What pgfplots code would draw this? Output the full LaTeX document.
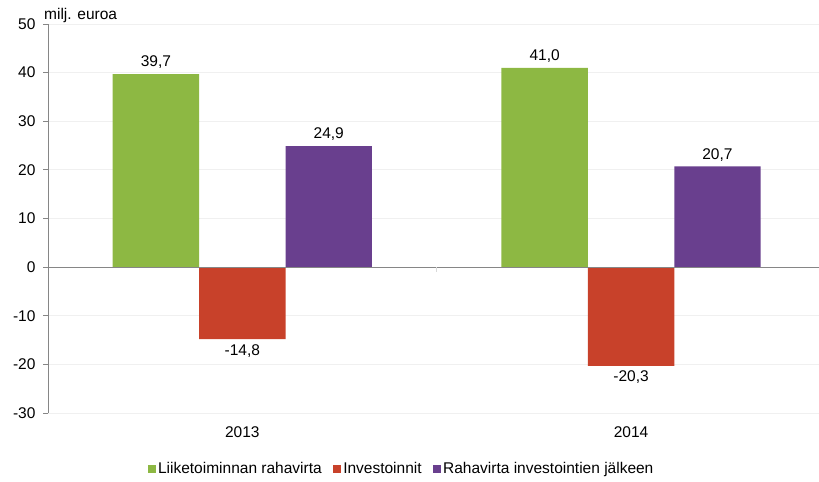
\documentclass[border=0pt]{standalone}
\usepackage{pgfplots}
\pgfplotsset{compat=1.18}
\usepackage{fontspec}
\setmainfont{Liberation Sans}
\definecolor{cgreen}{HTML}{8DB843}
\definecolor{cred}{HTML}{C8412A}
\definecolor{cpurple}{HTML}{693F8E}
\definecolor{cgrid}{HTML}{F0F0F0}
\definecolor{caxis}{HTML}{868686}
\begin{document}
\begin{tikzpicture}
\begin{axis}[
  name=ax,
  scale only axis,
  width=773.5pt, height=389pt,
  xmin=-0.5, xmax=1.49,
  ymin=-30, ymax=50,
  ytick={-30,-20,...,50},
  xtick={0,1}, xticklabels={2013,2014},
  axis y line*=left, axis x line*=bottom,
  x axis line style={draw=none},
  y axis line style={caxis, line width=0.8pt},
  xtick style={draw=none},
  ytick style={caxis, line width=0.8pt},
  tick align=outside,
  major tick length=5pt,
  ymajorgrids, grid style={cgrid, line width=0.8pt},
  font=\fontsize{15.5}{18}\selectfont,
  /pgf/number format/assume math mode=true,
  yticklabel style={xshift=-4pt},
  xticklabel style={yshift=-5pt},
  ybar, bar width=0.2223,
  nodes near coords,
  nodes near coords style={font=\fontsize{15.5}{18}\selectfont, inner sep=5pt, /pgf/number format/.cd, fixed, fixed zerofill, precision=1, use comma, assume math mode=true},
  legend columns=3,
  legend style={draw=none, at={([yshift=-56pt]rel axis cs:0.457,0)}, anchor=center, font=\fontsize{15.5}{18}\selectfont, /tikz/every even column/.append style={column sep=9pt}, /tikz/every odd column/.append style={column sep=0pt}},
  legend image code/.code={\fill[#1] (2pt,-4.2pt) rectangle (10.5pt,4.2pt);},
  clip=false,
]
\addplot[fill=cgreen, draw=none, bar shift=-0.2223] coordinates {(0,39.7) (1,41.0)};
\addplot[fill=cred, draw=none, bar shift=0] coordinates {(0,-14.8) (1,-20.3)};
\addplot[fill=cpurple, draw=none, bar shift=0.2223] coordinates {(0,24.9) (1,20.7)};
\legend{Liiketoiminnan rahavirta, Investoinnit, Rahavirta investointien jälkeen}
\draw[caxis, line width=0.8pt] (axis cs:-0.5,0) -- (axis cs:1.49,0);
\draw[black!15, line width=1pt] (axis cs:0.5,0) -- ([yshift=-5pt]axis cs:0.5,0);
\node[anchor=base west, font=\fontsize{15.5}{18}\selectfont, inner sep=0pt] at ([xshift=-4pt, yshift=4pt]rel axis cs:0,1) {milj. euroa};
\end{axis}
\pgfresetboundingbox
\path[use as bounding box] ([xshift=-48pt, yshift=-69pt]ax.south west) rectangle ([xshift=771pt, yshift=24pt]ax.south west |- ax.north west);
\end{tikzpicture}
\end{document}
